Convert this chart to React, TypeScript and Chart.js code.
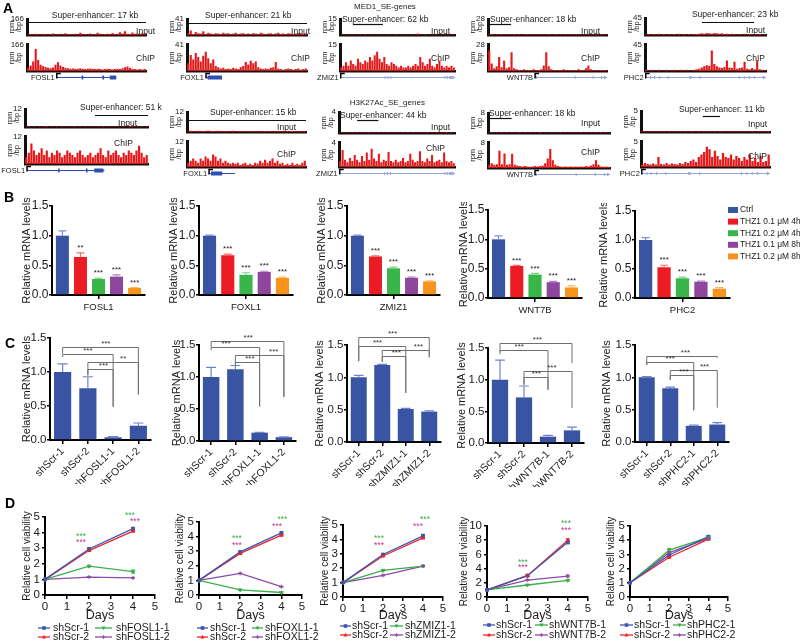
import React, { useEffect, useRef } from 'react';
import { Chart, registerables } from 'chart.js';

Chart.register(...registerables);

const FONT = '"Liberation Sans", Arial, Helvetica, sans-serif';
Chart.defaults.font.family = FONT;
Chart.defaults.color = '#1a1a1a';

/* ======================= DATA ======================= */
const loci = ['FOSL1', 'FOXL1', 'ZMIZ1', 'WNT7B', 'PHC2'];

// ---- A: MED1 super-enhancer genes (rpm/bp, 48 bins per locus)
const med1Max = [166, 41, 15, 28, 45];
const med1SeSize = ['17 kb', '21 kb', '62 kb', '18 kb', '23 kb'];
const med1InFOSL1 = [8, 12, 6, 14, 10, 8, 16, 10, 7, 12, 18, 9, 11, 14, 8, 20, 10, 12, 9, 15, 11, 24, 10, 13, 8, 18, 12, 10, 26, 14, 9, 12, 16, 10, 22, 12, 15, 30, 18, 40, 16, 12, 28, 14, 18, 10, 22, 12];
const med1ChipFOSL1 = [20, 35, 60, 140, 70, 40, 30, 25, 20, 18, 22, 40, 55, 35, 25, 20, 18, 15, 16, 14, 15, 18, 14, 12, 14, 16, 15, 12, 14, 12, 10, 12, 14, 12, 10, 12, 14, 12, 18, 24, 28, 20, 14, 12, 10, 12, 10, 12];
const med1InFOXL1 = [4, 12, 3, 8, 5, 4, 10, 3, 6, 4, 3, 5, 4, 3, 6, 4, 5, 3, 4, 6, 3, 4, 5, 3, 4, 3, 5, 4, 3, 6, 4, 3, 4, 5, 3, 4, 6, 3, 4, 3, 5, 4, 3, 4, 5, 3, 4, 3];
const med1ChipFOXL1 = [12, 25, 18, 28, 22, 15, 24, 30, 20, 12, 18, 8, 6, 4, 5, 3, 4, 3, 5, 4, 3, 6, 8, 14, 10, 16, 12, 15, 6, 4, 3, 4, 3, 5, 6, 14, 4, 3, 2, 3, 4, 3, 2, 3, 4, 2, 3, 4];
const med1InZMIZ1 = [0.5, 0.4, 0.6, 0.5, 0.4, 0.7, 0.5, 0.4, 0.6, 0.5, 0.8, 0.5, 0.4, 0.6, 0.5, 0.4, 0.5, 0.6, 0.4, 0.5, 0.6, 0.4, 0.5, 0.9, 0.5, 0.4, 0.6, 0.5, 0.4, 0.5, 0.6, 0.4, 1.5, 0.5, 0.4, 0.6, 0.5, 0.4, 0.5, 0.6, 0.4, 0.5, 0.6, 0.4, 0.5, 0.6, 0.4, 0.5];
const med1ChipZMIZ1 = [2, 3, 5, 3, 6, 4, 3, 7, 5, 4, 6, 5, 8, 6, 9, 11, 7, 5, 8, 4, 3, 5, 4, 3, 2, 3, 2, 2, 3, 2, 3, 4, 3, 8, 5, 3, 4, 7, 3, 2, 4, 6, 3, 2, 3, 2, 3, 2];
const med1InWNT7B = [1, 2, 1, 1.5, 1, 2, 1, 1.5, 1, 1, 2, 1, 1.5, 1, 1, 2, 1, 1, 1.5, 1, 1, 1.5, 1, 1, 2, 1, 1, 1.5, 1, 1, 1, 1.5, 1, 1, 1, 1.5, 1, 1, 1, 1, 1.5, 1, 1, 1, 1, 1.5, 1, 1];
const med1ChipWNT7B = [22, 8, 3, 5, 15, 4, 11, 3, 4, 20, 3, 2, 1, 1, 2, 1, 1, 1, 2, 1, 1, 2, 6, 20, 5, 2, 1, 1, 1, 1, 2, 1, 1, 1, 1, 1, 2, 1, 1, 3, 6, 2, 1, 1, 1, 1, 1, 1];
const med1InPHC2 = [2, 3, 2, 3, 2, 4, 2, 3, 2, 3, 2, 3, 2, 4, 2, 3, 2, 3, 2, 3, 3, 4, 5, 4, 6, 5, 4, 6, 5, 4, 5, 3, 4, 3, 4, 3, 2, 3, 2, 4, 2, 3, 2, 3, 2, 3, 2, 2];
const med1ChipPHC2 = [2, 1, 2, 1, 1, 2, 1, 1, 2, 1, 1, 2, 1, 1, 2, 1, 2, 1, 1, 2, 3, 4, 6, 8, 10, 9, 35, 12, 8, 6, 5, 7, 18, 6, 5, 16, 4, 5, 6, 16, 4, 3, 5, 3, 18, 3, 2, 1];
const med1Input = [med1InFOSL1, med1InFOXL1, med1InZMIZ1, med1InWNT7B, med1InPHC2];
const med1Chip = [med1ChipFOSL1, med1ChipFOXL1, med1ChipZMIZ1, med1ChipWNT7B, med1ChipPHC2];
// super-enhancer extent (bins)
const med1SeSpan = [[0, 48], [0, 48], [5.4, 17.9], [0.8, 9.3], [22.6, 43.3]];

// ---- A: H3K27Ac super-enhancer genes
const h3k27Max = [12, 12, 4, 8, 5];
const h3k27SeSize = ['51 kb', '15 kb', '44 kb', '18 kb', '11 kb'];
const h3kInFOSL1 = [0.3, 0.5, 0.3, 0.4, 0.3, 0.5, 0.3, 0.4, 0.6, 0.3, 0.4, 0.3, 0.5, 0.3, 0.4, 0.3, 0.5, 0.3, 0.4, 0.6, 0.3, 0.4, 0.3, 0.5, 0.3, 0.4, 0.3, 0.5, 0.4, 0.3, 0.6, 0.3, 0.4, 0.3, 0.5, 0.3, 0.4, 0.3, 0.5, 0.3, 0.4, 0.6, 0.3, 0.4, 0.3, 0.5, 0.3, 0.4];
const h3kChipFOSL1 = [3, 5, 9, 6, 4, 5, 7, 4, 6, 3, 5, 4, 6, 5, 3, 4, 6, 5, 4, 3, 5, 6, 4, 3, 4, 5, 3, 4, 5, 7, 4, 3, 6, 4, 5, 6, 4, 3, 5, 4, 6, 5, 4, 6, 8, 5, 3, 4];
const h3kInFOXL1 = [0.4, 0.8, 0.5, 0.6, 0.9, 0.5, 0.7, 0.6, 1.0, 0.5, 0.7, 0.6, 0.8, 0.5, 0.6, 0.7, 0.5, 0.6, 0.9, 0.5, 0.6, 0.5, 0.7, 0.5, 0.6, 0.5, 0.7, 0.6, 0.5, 0.6, 0.5, 0.7, 0.5, 0.6, 0.5, 0.6, 0.7, 0.5, 0.6, 0.5, 0.6, 0.5, 0.7, 0.5, 0.6, 0.5, 0.6, 0.5];
const h3kChipFOXL1 = [2, 3, 4, 3, 2, 4, 3, 5, 4, 3, 6, 5, 3, 4, 2, 3, 2, 1.5, 2, 1.5, 2, 1, 1.5, 2, 1, 1.5, 1, 2, 1.5, 3, 2, 3.5, 2, 3, 4, 2, 3, 1.5, 2, 1, 1.5, 1, 2, 1, 1.5, 1, 2, 3];
const h3kInZMIZ1 = [0.1, 0.15, 0.1, 0.12, 0.1, 0.18, 0.1, 0.12, 0.1, 0.15, 0.1, 0.12, 0.2, 0.1, 0.12, 0.1, 0.15, 0.1, 0.12, 0.1, 0.18, 0.1, 0.12, 0.1, 0.15, 0.1, 0.12, 0.1, 0.2, 0.1, 0.12, 0.1, 0.15, 0.1, 0.12, 0.1, 0.18, 0.1, 0.12, 0.1, 0.15, 0.1, 0.12, 0.1, 0.2, 0.1, 0.12, 0.1];
const h3kChipZMIZ1 = [1.0, 2.8, 1.2, 0.8, 1.5, 1.0, 2.0, 1.2, 0.8, 1.8, 1.0, 2.4, 1.2, 3.0, 1.4, 1.0, 2.2, 0.8, 1.2, 1.0, 2.5, 1.0, 0.8, 1.2, 0.8, 1.0, 1.5, 0.8, 1.0, 2.2, 1.2, 0.8, 1.0, 2.6, 1.0, 0.8, 1.4, 1.0, 2.0, 0.8, 1.0, 1.2, 0.8, 2.4, 1.0, 0.8, 1.0, 0.6];
const h3kInWNT7B = [0.2, 0.3, 0.2, 0.25, 0.2, 0.35, 0.2, 0.25, 0.2, 0.3, 0.2, 0.25, 0.4, 0.2, 0.25, 0.2, 0.3, 0.2, 0.25, 0.2, 0.35, 0.2, 0.25, 0.2, 0.3, 0.2, 0.25, 0.2, 0.4, 0.2, 0.25, 0.2, 0.3, 0.2, 0.25, 0.2, 0.35, 0.2, 0.25, 0.2, 0.3, 0.2, 0.25, 0.2, 0.4, 0.2, 0.25, 0.2];
const h3kChipWNT7B = [1, 1.5, 1, 1.2, 5.5, 1.2, 4.6, 1, 1.2, 4.5, 1, 0.8, 0.6, 0.5, 0.6, 0.5, 0.4, 0.5, 0.6, 0.5, 0.6, 0.8, 1.5, 3, 6, 2.5, 1, 0.6, 0.5, 0.4, 0.5, 0.4, 0.5, 0.4, 0.5, 0.4, 0.5, 0.4, 0.6, 0.5, 0.8, 1.2, 2.5, 1, 0.5, 0.4, 0.5, 0.4];
const h3kInPHC2 = [0.15, 0.2, 0.15, 0.25, 0.15, 0.2, 0.15, 0.2, 0.25, 0.15, 0.2, 0.15, 0.2, 0.15, 0.25, 0.15, 0.2, 0.15, 0.2, 0.25, 0.15, 0.2, 0.15, 0.2, 0.15, 0.25, 0.15, 0.2, 0.15, 0.2, 0.25, 0.15, 0.2, 0.15, 0.2, 0.15, 0.25, 0.15, 0.2, 0.15, 0.2, 0.25, 0.15, 0.2, 0.15, 0.2, 0.15, 0.2];
const h3kChipPHC2 = [0.5, 0.8, 0.6, 0.5, 0.7, 0.5, 2.0, 0.6, 0.5, 0.8, 0.5, 0.7, 0.6, 0.5, 0.8, 0.6, 1.0, 0.8, 1.2, 1.5, 1.0, 2.0, 2.5, 3.0, 4.0, 3.5, 2.0, 3.2, 2.2, 1.5, 2.8, 2.0, 1.8, 2.5, 1.5, 2.2, 1.8, 1.2, 2.0, 1.5, 2.5, 1.2, 1.8, 1.0, 2.2, 1.0, 1.2, 2.5];
const h3k27Input = [h3kInFOSL1, h3kInFOXL1, h3kInZMIZ1, h3kInWNT7B, h3kInPHC2];
const h3k27Chip = [h3kChipFOSL1, h3kChipFOXL1, h3kChipZMIZ1, h3kChipWNT7B, h3kChipPHC2];
const h3k27SeSpan = [[27.3, 48], [0, 48], [7.5, 16.3], [0.8, 9.3], [23, 29.4]];

// gene models (bins): TSS, end, exons
const med1Genes = [
  { tss: 12, end: 36, exons: [[22, 22.7], [30.4, 31.1], [33.4, 36]] },
  { tss: 7.6, end: 14, exons: [[8.2, 14]] },
  { tss: 0.3, end: 48, exons: [[18.6, 19], [19.9, 20.3], [21.1, 21.5], [43.6, 44], [44.6, 45], [45.6, 46.6]] },
  { tss: 19, end: 48, exons: [[19.3, 19.8], [35, 35.4], [42.2, 42.6], [45.6, 46]] },
  { tss: 0.3, end: 48, exons: [[2, 2.4], [3.6, 4], [5.6, 6], [9, 9.4], [17.6, 18.4], [21.6, 22], [37.2, 37.6], [39.2, 39.6], [41.2, 41.6], [43.2, 43.6]] },
];
const h3k27Genes = [
  { tss: 0.8, end: 31, exons: [[12.9, 13.5], [23.8, 24.4], [27, 30.6]] },
  { tss: 8.9, end: 19.4, exons: [[9.7, 14.2]] },
  { tss: 0.3, end: 48, exons: [[18.6, 19], [19.9, 20.3], [21.1, 21.5], [43.6, 44], [44.6, 45], [45.6, 46.6]] },
  { tss: 18.5, end: 48, exons: [[18.8, 19.3], [34.5, 34.9], [42, 42.4], [45.6, 46]] },
  { tss: 0.3, end: 48, exons: [[2, 2.4], [3.6, 4], [5.6, 6], [9, 9.4], [17.6, 18.4], [21.6, 22], [37.2, 37.6], [39.2, 39.6], [41.2, 41.6], [43.2, 43.6]] },
];

// ---- B: THZ1 treatment, relative mRNA levels
const conditions = ['Ctrl', 'THZ1 0.1 μM 4h', 'THZ1 0.2 μM 4h', 'THZ1 0.1 μM 8h', 'THZ1 0.2 μM 8h'];
const thzFOSL1 = [1.0, 0.64, 0.27, 0.31, 0.12];
const thzFOXL1 = [1.0, 0.67, 0.34, 0.39, 0.29];
const thzZMIZ1 = [1.0, 0.65, 0.45, 0.29, 0.23];
const thzWNT7B = [1.0, 0.545, 0.40, 0.27, 0.18];
const thzPHC2 = [1.0, 0.53, 0.34, 0.28, 0.16];
const thzErrFOSL1 = [0.08, 0.07, 0.015, 0.03, 0.006];
const thzErrFOXL1 = [0.01, 0.02, 0.035, 0.01, 0.01];
const thzErrZMIZ1 = [0.01, 0.01, 0.02, 0.01, 0.01];
const thzErrWNT7B = [0.06, 0.01, 0.02, 0.015, 0.025];
const thzErrPHC2 = [0.04, 0.035, 0.02, 0.01, 0.02];
const thzSigFOSL1 = ['', '**', '***', '***', '***'];
const thzSigOther = ['', '***', '***', '***', '***'];
const thzValues = [thzFOSL1, thzFOXL1, thzZMIZ1, thzWNT7B, thzPHC2];
const thzErrors = [thzErrFOSL1, thzErrFOXL1, thzErrZMIZ1, thzErrWNT7B, thzErrPHC2];
const thzSigs = [thzSigFOSL1, thzSigOther, thzSigOther, thzSigOther, thzSigOther];

// ---- C: shRNA knockdown, relative mRNA levels
const shFOSL1 = ['shScr-1', 'shScr-2', 'shFOSL1-1', 'shFOSL1-2'];
const shFOXL1 = ['shScr-1', 'shScr-2', 'shFOXL1-1', 'shFOXL1-2'];
const shZMIZ1 = ['shScr-1', 'shScr-2', 'shZMIZ1-1', 'shZMIZ1-2'];
const shWNT7B = ['shScr-1', 'shScr-2', 'shWNT7B-1', 'shWNT7B-2'];
const shPHC2 = ['shScr-1', 'shScr-2', 'shPHC2-1', 'shPHC2-2'];
const shNames = [shFOSL1, shFOXL1, shZMIZ1, shWNT7B, shPHC2];
const kdFOSL1 = [1.0, 0.76, 0.04, 0.21];
const kdFOXL1 = [1.0, 1.12, 0.13, 0.06];
const kdZMIZ1 = [1.0, 1.19, 0.51, 0.47];
const kdWNT7B = [1.0, 0.72, 0.10, 0.20];
const kdPHC2 = [1.0, 0.83, 0.25, 0.27];
const kdErrFOSL1 = [0.12, 0.17, 0.01, 0.04];
const kdErrFOXL1 = [0.15, 0.06, 0.005, 0.005];
const kdErrZMIZ1 = [0.03, 0.01, 0.01, 0.01];
const kdErrWNT7B = [0.31, 0.18, 0.02, 0.05];
const kdErrPHC2 = [0.01, 0.02, 0.01, 0.03];
const kdValues = [kdFOSL1, kdFOXL1, kdZMIZ1, kdWNT7B, kdPHC2];
const kdErrors = [kdErrFOSL1, kdErrFOXL1, kdErrZMIZ1, kdErrWNT7B, kdErrPHC2];
// significance brackets: from, to, height, left end, right end (values), label, label position
const brFOSL1 = [
  { from: 0, to: 3, y: 1.37, l: 1.27, r: 0.67, text: '***', at: 0.57 },
  { from: 0, to: 2, y: 1.27, l: 1.22, r: 0.49, text: '***', at: 0.5 },
  { from: 1, to: 3, y: 1.145, l: 0.95, r: 0.67, text: '**', at: 0.7 },
  { from: 1, to: 2, y: 1.037, l: 0.95, r: 0.49, text: '***', at: 0.62 },
];
const brFOXL1 = [
  { from: 0, to: 3, y: 1.56, l: 1.47, r: 0.69, text: '***', at: 0.51 },
  { from: 0, to: 2, y: 1.47, l: 1.42, r: 0.54, text: '***', at: 0.31 },
  { from: 1, to: 3, y: 1.34, l: 1.19, r: 0.69, text: '***', at: 0.79 },
  { from: 1, to: 2, y: 1.24, l: 1.19, r: 0.54, text: '***', at: 0.6 },
];
const brZMIZ1 = [
  { from: 0, to: 3, y: 1.63, l: 1.25, r: 1.31, text: '***', at: 0.48 },
  { from: 0, to: 2, y: 1.49, l: 1.25, r: 0.76, text: '***', at: 0.4 },
  { from: 1, to: 3, y: 1.42, l: 1.24, r: 1.31, text: '***', at: 0.77 },
  { from: 1, to: 2, y: 1.33, l: 1.24, r: 0.76, text: '***', at: 0.6 },
];
const brWNT7B = [
  { from: 0, to: 3, y: 1.585, l: 1.44, r: 1.26, text: '***', at: 0.52 },
  { from: 0, to: 2, y: 1.47, l: 1.4, r: 0.84, text: '***', at: 0.4 },
  { from: 1, to: 3, y: 1.14, l: 0.92, r: 0.55, text: '***', at: 0.58 },
  { from: 1, to: 2, y: 1.04, l: 0.92, r: 0.84, text: '***', at: 0.52 },
];
const brPHC2 = [
  { from: 0, to: 3, y: 1.33, l: 1.19, r: 1.3, text: '***', at: 0.55 },
  { from: 0, to: 2, y: 1.24, l: 1.19, r: 0.49, text: '***', at: 0.5 },
  { from: 1, to: 3, y: 1.12, l: 0.96, r: 0.53, text: '***', at: 0.73 },
  { from: 1, to: 2, y: 1.03, l: 0.96, r: 0.49, text: '***', at: 0.58 },
];
const kdBrackets = [brFOSL1, brFOXL1, brZMIZ1, brWNT7B, brPHC2];

// ---- D: relative cell viability
const days = [0, 2, 4];
const viaFOSL1 = [[1, 2.95, 4.25], [1, 2.85, 4.1], [1, 1.85, 1.5], [1, 1.15, 1.1]];
const viaFOXL1 = [[1, 2.95, 4.25], [1, 2.85, 4.1], [1, 0.35, 0.17], [1, 1.48, 0.57]];
const viaZMIZ1 = [[1, 2.95, 4.25], [1, 2.85, 4.1], [1, 1.85, 2.15], [1, 1.5, 2.15]];
const viaWNT7B = [[1, 3.0, 7.7], [1, 3.0, 8.0], [1, 1.69, 2.35], [1, 2.39, 2.95]];
const viaPHC2 = [[1, 2.96, 4.25], [1, 2.8, 4.08], [1, 3.3, 4.2], [1, 3.12, 4.13]];
const viaErrFOSL1 = [[0, 0.06, 0.08], [0, 0.05, 0.06], [0, 0.05, 0.1], [0, 0.03, 0.03]];
const viaErrFOXL1 = [[0, 0.06, 0.08], [0, 0.05, 0.06], [0, 0.03, 0.03], [0, 0.03, 0.03]];
const viaErrZMIZ1 = [[0, 0.06, 0.1], [0, 0.05, 0.06], [0, 0.04, 0.05], [0, 0.03, 0.04]];
const viaErrWNT7B = [[0, 0.1, 0.2], [0, 0.1, 0.2], [0, 0.05, 0.08], [0, 0.06, 0.15]];
const viaErrPHC2 = [[0, 0.06, 0.08], [0, 0.05, 0.06], [0, 0.12, 0.08], [0, 0.06, 0.06]];
const viaSeries = [viaFOSL1, viaFOXL1, viaZMIZ1, viaWNT7B, viaPHC2];
const viaErrors = [viaErrFOSL1, viaErrFOXL1, viaErrZMIZ1, viaErrWNT7B, viaErrPHC2];
const viaYMax = [5, 5, 5, 10, 5];
const viaYStep = [1, 1, 1, 2, 1];
// significance labels: [day position, value, which knockdown ('g' = -1, 'm' = -2)]
const starsFOSL1 = [[1.64, 3.74, 'g'], [1.64, 3.35, 'm'], [3.86, 5.06, 'g'], [4.09, 4.7, 'm']];
const starsFOXL1 = [[1.84, 3.84, 'g'], [1.84, 3.36, 'm'], [4.05, 5.14, 'g'], [3.79, 4.66, 'm']];
const starsZMIZ1 = [[1.8, 4.03, 'g'], [1.8, 3.54, 'm'], [4.1, 5.4, 'g'], [3.75, 4.9, 'm']];
const starsWNT7B = [[1.78, 4.9, 'g'], [1.78, 4.08, 'm'], [3.91, 10.4, 'g'], [3.91, 9.4, 'm']];
const starsPHC2: any[] = [];
const viaStars = [starsFOSL1, starsFOXL1, starsZMIZ1, starsWNT7B, starsPHC2];

/* ======================= STYLE ======================= */
const TRACK_RED = '#e31a1c';
const GENE_DARK = '#2f4fb0';
const GENE_LIGHT = '#94a6e0';
const condColors = ['#3a54a4', '#ec1c24', '#3ab54a', '#8e479c', '#f7941d'];
const condErrColors = ['#7b8fd0', '#f36b6f', '#7fd08a', '#b27fc0', '#f9b866'];
const KD_BLUE = '#3a54a4';
const KD_ERR = '#7083c8';
const seriesColors = ['#3d56b3', '#e8262b', '#3aae4a', '#8d4aa6'];
const seriesStyles = ['rect', 'triangle', 'triangle', 'cross'];
const seriesRot = [0, 0, 180, 0];
const STAR_G = '#3cae4b';
const STAR_M = '#c0348f';

/* ======================= LAYOUT ======================= */
const aTopCols = [[27, 146], [187, 307], [340, 455], [488, 607], [645, 766]];
const aBotCols = [[25, 148], [187, 306], [339, 455], [488, 610], [641, 770]];
const aTopY = [[19, 43, 71], [19, 43, 71], [19, 43, 71], [19, 43, 71], [18, 43, 71]];
const aBotY = [[109, 135, 164], [112, 140, 167], [112, 141, 167], [113, 141, 168], [111, 140, 167]];
const aTopSeText = [[10, -3, 3], [7.2, -3, 4], [0.8, 1, 5], [0.8, 1, 5], [18.6, -3, 4]];
const aBotSeText = [[21.5, -1, 6], [9.3, 1, 8], [0.4, 4, 8], [0.4, 1, 5], [14.1, -1, 5]];
const aTopLab = [[9, 13, 9, 14], [3, 13, 3, 14], [-5, 13, -5, 14], [-7, 13, -7, 14], [-1, 13, -1, 14]];
const aBotLab = [[-11, 15, -15, 7], [-10, 16, -10, 13], [-5, 16, -10, 6], [-10, 11, -10, 10], [-3, 14, -3, 15]];
const aTitles = [{ text: 'MED1_SE-genes', at: 18.75, dy: -12 }, { text: 'H3K27Ac_SE_genes', at: 20, dy: -9 }];

const bLayout = [
  { l: 52, t: 206, r: 145, b: 295, L: 32 },
  { l: 199, t: 206, r: 293, b: 295, L: 32 },
  { l: 347, t: 206, r: 440, b: 295, L: 32 },
  { l: 488, t: 210, r: 582, b: 298, L: 31 },
  { l: 635, t: 211, r: 730, b: 298, L: 38 },
];
const cLayout = [
  { l: 50, t: 338, r: 151, b: 440, L: 30 },
  { l: 199, t: 345, r: 296, b: 441, L: 29 },
  { l: 347, t: 345, r: 441, b: 442, L: 34 },
  { l: 488, t: 348, r: 584, b: 443, L: 33 },
  { l: 635, t: 345, r: 729, b: 442, L: 35 },
];
const dLayout = [
  { l: 45, t: 517, r: 155, b: 595, L: 24 },
  { l: 199, t: 522, r: 302, b: 595, L: 25 },
  { l: 343, t: 525, r: 443, b: 597, L: 24 },
  { l: 487, t: 526, r: 588, b: 597, L: 29 },
  { l: 630, t: 526, r: 728, b: 597, L: 25 },
];
const dLegendCols = [
  [[-7, 5, 8], [50, 67, 71]],
  [[-2, 9, 11], [53, 64, 66]],
  [[-3, 8, 9], [47, 60, 62]],
  [[-4, 8, 9], [48, 61, 62]],
  [[-10, 3, 4], [43, 56, 57]],
];
const dLegendRows = [[33, 42], [33, 42], [29, 38], [28, 38], [28, 38]];
const panelLetters = [['A', 3, 1], ['B', 4, 190], ['C', 5, 336], ['D', 5, 496]];

/* ======================= HELPERS ======================= */
type Box = { l: number; t: number; r: number; b: number };
type Mar = { L: number; T: number; R: number; B: number; P?: number };
type Spec = { id: string; box: Box; mar: Mar; make: () => any };

function place(box: Box, m: Mar) {
  const P = m.P || 0;
  return {
    left: box.l - m.L - P,
    top: box.t - m.T,
    width: box.r - box.l + m.L + m.R + P,
    height: box.b - box.t + m.T + m.B,
  };
}

function base(m: Mar) {
  return {
    responsive: false,
    maintainAspectRatio: false,
    animation: false,
    events: [],
    layout: { padding: { left: m.P || 0, top: m.T, right: m.R, bottom: 0 } },
    plugins: { legend: { display: false }, tooltip: { enabled: false }, title: { display: false } },
  };
}

function yAxis(m: Mar, max: number, step: number, title: string, tickSize: number, titleSize: number, tickLen: number, pad: number, fmt: (v: number) => string) {
  return {
    min: 0,
    max,
    ticks: { stepSize: step, autoSkip: false, font: { size: tickSize }, padding: pad, color: '#1a1a1a', callback: (v: any) => fmt(Number(v)) },
    grid: { drawOnChartArea: false, drawTicks: true, tickLength: tickLen, color: '#000', lineWidth: 1.5 },
    border: { display: true, color: '#000', width: 2 },
    title: { display: true, text: title, font: { size: titleSize }, padding: 0, color: '#1a1a1a' },
    afterFit: (s: any) => { s.width = m.L; },
  };
}

function xCat(m: Mar, size: number, rot: number, pad: number) {
  return {
    grid: { display: true, drawOnChartArea: false, drawTicks: true, tickLength: 4, offset: false, color: '#000', lineWidth: 1.5 },
    border: { display: true, color: '#000', width: 2 },
    ticks: { font: { size }, padding: pad, color: '#1a1a1a', autoSkip: false, minRotation: rot, maxRotation: rot },
    afterFit: (s: any) => { s.height = m.B; },
  };
}

function drawMarker(ctx: any, style: string, rot: number, x: number, y: number, r: number, color: string) {
  ctx.save();
  ctx.fillStyle = color;
  ctx.strokeStyle = color;
  ctx.lineWidth = 1.2;
  if (style === 'rect') {
    ctx.fillRect(x - r, y - r, 2 * r, 2 * r);
  } else if (style === 'triangle') {
    const s = rot === 180 ? -1 : 1;
    ctx.beginPath();
    ctx.moveTo(x, y - s * r * 1.2);
    ctx.lineTo(x - r * 1.1, y + s * r * 0.8);
    ctx.lineTo(x + r * 1.1, y + s * r * 0.8);
    ctx.closePath();
    ctx.fill();
  } else {
    ctx.beginPath();
    ctx.moveTo(x - r, y);
    ctx.lineTo(x + r, y);
    ctx.moveTo(x, y - r);
    ctx.lineTo(x, y + r);
    ctx.stroke();
  }
  ctx.restore();
}

/* ======================= PLUGINS ======================= */
function trackDecor(kind: string, o: any) {
  return {
    id: 'trackDecor',
    afterDraw(chart: any) {
      const { ctx, chartArea: a } = chart;
      const xs = chart.scales.x;
      const bx = (b: number) => xs.getPixelForValue(b - 0.5);
      ctx.save();
      ctx.fillStyle = '#1a1a1a';
      ctx.textBaseline = 'middle';
      ctx.font = `8.5px ${FONT}`;
      ctx.textAlign = 'right';
      if (kind === 'in') {
        ctx.fillText('Input', a.right + o.lab[0], a.top + o.lab[1]);
        ctx.textAlign = 'left';
        ctx.fillText('Super-enhancer: ' + o.seSize, bx(o.seText[0]), a.top + o.seText[1]);
        ctx.strokeStyle = '#111';
        ctx.lineWidth = 1.2;
        const by = Math.round(a.top + o.seText[2]) + 0.5;
        ctx.beginPath();
        ctx.moveTo(bx(o.seSpan[0]), by);
        ctx.lineTo(bx(o.seSpan[1]), by);
        ctx.stroke();
        if (o.title) {
          ctx.textAlign = 'center';
          ctx.font = `8px ${FONT}`;
          ctx.fillText(o.title.text, bx(o.title.at), a.top + o.title.dy);
        }
      } else {
        ctx.fillText('ChIP', a.right + o.lab[2], a.top + o.lab[3]);
        const g = o.gene;
        const gy = Math.round(a.bottom + 6) + 0.5;
        const x0 = bx(g.tss);
        const x1 = bx(g.end);
        ctx.strokeStyle = o.geneColor;
        ctx.fillStyle = o.geneColor;
        ctx.lineWidth = 1;
        ctx.beginPath();
        ctx.moveTo(x0, gy);
        ctx.lineTo(x1, gy);
        ctx.stroke();
        const h = o.dark ? 4 : 3;
        g.exons.forEach((ex: number[]) => {
          const xa = bx(ex[0]);
          const xb = bx(ex[1]);
          ctx.fillRect(xa, gy - h / 2, Math.max(1, xb - xa), h);
        });
        if (!o.dark) {
          ctx.beginPath();
          ctx.moveTo(x1, gy);
          ctx.lineTo(x1 - 3, gy - 2);
          ctx.lineTo(x1 - 3, gy + 2);
          ctx.closePath();
          ctx.fill();
        }
        ctx.strokeStyle = '#000';
        ctx.lineWidth = 1.5;
        ctx.beginPath();
        ctx.moveTo(x0, gy + 1);
        ctx.lineTo(x0, gy - 4);
        ctx.lineTo(x0 + 4, gy - 4);
        ctx.stroke();
        ctx.fillStyle = '#1a1a1a';
        ctx.font = `7.5px ${FONT}`;
        ctx.textAlign = 'right';
        ctx.fillText(o.name, x0 - 2, gy);
      }
      ctx.restore();
    },
  };
}

function barErrors(errs: number[][], colorOf: (di: number) => string, sig?: string[][]) {
  return {
    id: 'barErrors',
    afterDatasetsDraw(chart: any) {
      const { ctx } = chart;
      const ys = chart.scales.y;
      ctx.save();
      chart.data.datasets.forEach((ds: any, di: number) => {
        const meta = chart.getDatasetMeta(di);
        meta.data.forEach((el: any, i: number) => {
          const v = ds.data[i];
          const e = errs[di][i];
          const yT = ys.getPixelForValue(v + e);
          const half = el.width * 0.3;
          ctx.strokeStyle = colorOf(di);
          ctx.lineWidth = 1.2;
          ctx.beginPath();
          ctx.moveTo(el.x, el.y);
          ctx.lineTo(el.x, yT);
          ctx.moveTo(el.x - half, yT);
          ctx.lineTo(el.x + half, yT);
          ctx.stroke();
          const s = sig && sig[di] ? sig[di][i] : '';
          if (s) {
            ctx.fillStyle = '#222';
            ctx.font = `8px ${FONT}`;
            ctx.textAlign = 'center';
            ctx.textBaseline = 'middle';
            ctx.fillText(s, el.x, yT - 5);
          }
        });
      });
      ctx.restore();
    },
  };
}

function brackets(list: any[]) {
  return {
    id: 'brackets',
    afterDatasetsDraw(chart: any) {
      const { ctx } = chart;
      const xs = chart.scales.x;
      const ys = chart.scales.y;
      ctx.save();
      ctx.strokeStyle = '#707070';
      ctx.lineWidth = 1;
      list.forEach((b: any) => {
        const x1 = xs.getPixelForValue(b.from);
        const x2 = xs.getPixelForValue(b.to);
        const y = Math.round(ys.getPixelForValue(b.y)) + 0.5;
        ctx.beginPath();
        ctx.moveTo(x1, ys.getPixelForValue(b.l));
        ctx.lineTo(x1, y);
        ctx.lineTo(x2, y);
        ctx.lineTo(x2, ys.getPixelForValue(b.r));
        ctx.stroke();
        ctx.fillStyle = '#333';
        ctx.font = `8px ${FONT}`;
        ctx.textAlign = 'center';
        ctx.textBaseline = 'middle';
        ctx.fillText(b.text, x1 + (x2 - x1) * b.at, y - 4);
      });
      ctx.restore();
    },
  };
}

function thzLegend() {
  return {
    id: 'thzLegend',
    afterDraw(chart: any) {
      const { ctx, chartArea: a } = chart;
      ctx.save();
      ctx.font = `8.4px ${FONT}`;
      ctx.textBaseline = 'middle';
      ctx.textAlign = 'left';
      conditions.forEach((c, i) => {
        const y = a.top - 1 + i * 11.6;
        ctx.fillStyle = condColors[i];
        ctx.fillRect(a.right - 2, y - 3, 10, 6);
        ctx.fillStyle = '#1a1a1a';
        ctx.fillText(c, a.right + 10, y);
      });
      ctx.restore();
    },
  };
}

function pointErrors(errs: number[][]) {
  return {
    id: 'pointErrors',
    afterDatasetsDraw(chart: any) {
      const { ctx } = chart;
      const ys = chart.scales.y;
      ctx.save();
      chart.data.datasets.forEach((ds: any, di: number) => {
        const meta = chart.getDatasetMeta(di);
        meta.data.forEach((pt: any, i: number) => {
          const e = errs[di][i];
          if (!e) return;
          const v = ds.data[i].y;
          const y1 = ys.getPixelForValue(v + e);
          const y2 = ys.getPixelForValue(v - e);
          ctx.strokeStyle = ds.borderColor;
          ctx.lineWidth = 1;
          ctx.beginPath();
          ctx.moveTo(pt.x, y1);
          ctx.lineTo(pt.x, y2);
          ctx.moveTo(pt.x - 2, y1);
          ctx.lineTo(pt.x + 2, y1);
          ctx.moveTo(pt.x - 2, y2);
          ctx.lineTo(pt.x + 2, y2);
          ctx.stroke();
        });
      });
      ctx.restore();
    },
  };
}

function starLabels(list: any[]) {
  return {
    id: 'starLabels',
    afterDatasetsDraw(chart: any) {
      const { ctx } = chart;
      const xs = chart.scales.x;
      const ys = chart.scales.y;
      ctx.save();
      ctx.font = `8.5px ${FONT}`;
      ctx.textAlign = 'center';
      ctx.textBaseline = 'middle';
      list.forEach((s: any) => {
        ctx.fillStyle = s[2] === 'g' ? STAR_G : STAR_M;
        ctx.fillText('***', xs.getPixelForValue(s[0]), ys.getPixelForValue(s[1]));
      });
      ctx.restore();
    },
  };
}

function viaLegend(names: string[], cols: number[][], rows: number[]) {
  return {
    id: 'viaLegend',
    afterDraw(chart: any) {
      const { ctx, chartArea: a } = chart;
      ctx.save();
      ctx.font = `10.5px ${FONT}`;
      ctx.textBaseline = 'middle';
      ctx.textAlign = 'left';
      names.forEach((n, k) => {
        const col = cols[k >> 1];
        const y = a.bottom + rows[k & 1];
        const c = seriesColors[k];
        ctx.strokeStyle = c;
        ctx.lineWidth = 1.3;
        ctx.beginPath();
        ctx.moveTo(a.left + col[0], y);
        ctx.lineTo(a.left + col[1], y);
        ctx.stroke();
        drawMarker(ctx, seriesStyles[k], seriesRot[k], a.left + (col[0] + col[1]) / 2, y, 1.8, c);
        ctx.fillStyle = '#1a1a1a';
        ctx.fillText(n, a.left + col[2], y);
      });
      ctx.restore();
    },
  };
}

/* ======================= SPECS ======================= */
function trackSpec(id: string, box: Box, mar: Mar, values: number[], max: number, kind: string, o: any): Spec {
  return {
    id,
    box,
    mar,
    make: () => ({
      type: 'bar',
      data: {
        labels: values.map((_, i) => String(i)),
        datasets: [{ data: values, backgroundColor: TRACK_RED, borderWidth: 0, categoryPercentage: 1, barPercentage: 0.85 }],
      },
      options: {
        ...base(mar),
        scales: {
          x: {
            grid: { display: false, drawTicks: false },
            ticks: { display: false },
            border: { display: true, color: '#111', width: 2.5 },
            afterFit: (s: any) => { s.height = mar.B; },
          },
          y: {
            min: 0,
            max,
            afterBuildTicks: (s: any) => { s.ticks = [{ value: max }]; },
            grid: { display: false, drawTicks: false },
            border: { display: true, color: '#111', width: 3 },
            ticks: { font: { size: 8 }, padding: 3, color: '#222', callback: (v: any) => String(v) },
            title: { display: true, text: ['rpm', '/bp'], font: { size: 7.5, lineHeight: 1 }, padding: 0, color: '#222' },
            afterFit: (s: any) => { s.width = mar.L; },
          },
        },
      },
      plugins: [trackDecor(kind, o)],
    }),
  };
}

function trackRow(row: number): Spec[] {
  const top = row === 0;
  const cols = top ? aTopCols : aBotCols;
  const ys = top ? aTopY : aBotY;
  const maxes = top ? med1Max : h3k27Max;
  const ins = top ? med1Input : h3k27Input;
  const chips = top ? med1Chip : h3k27Chip;
  const sizes = top ? med1SeSize : h3k27SeSize;
  const spans = top ? med1SeSpan : h3k27SeSpan;
  const seText = top ? aTopSeText : aBotSeText;
  const labs = top ? aTopLab : aBotLab;
  const genes = top ? med1Genes : h3k27Genes;
  const out: Spec[] = [];
  loci.forEach((name, i) => {
    const o = {
      name,
      seSize: sizes[i],
      seSpan: spans[i],
      seText: seText[i],
      lab: labs[i],
      gene: genes[i],
      dark: i < 2,
      geneColor: i < 2 ? GENE_DARK : GENE_LIGHT,
      title: i === 2 ? aTitles[row] : null,
    };
    const [l, r] = cols[i];
    const [t, m, b] = ys[i];
    out.push(trackSpec(`a${row}in${i}`, { l, t, r, b: m }, { L: 19, T: 18, R: 14, B: 0 }, ins[i], maxes[i], 'in', o));
    out.push(trackSpec(`a${row}chip${i}`, { l, t: m, r, b }, { L: 19, T: 6, R: 14, B: 14, P: 14 }, chips[i], maxes[i], 'chip', o));
  });
  return out;
}

function thzSpec(i: number): Spec {
  const L = bLayout[i];
  const mar: Mar = { L: L.L, T: 8, R: i === 4 ? 70 : 8, B: 20 };
  return {
    id: 'b' + i,
    box: { l: L.l, t: L.t, r: L.r, b: L.b },
    mar,
    make: () => ({
      type: 'bar',
      data: {
        labels: [loci[i]],
        datasets: conditions.map((c, k) => ({
          label: c,
          data: [thzValues[i][k]],
          backgroundColor: condColors[k],
          borderWidth: 0,
          categoryPercentage: 0.97,
          barPercentage: 0.72,
        })),
      },
      options: {
        ...base(mar),
        scales: {
          x: xCat(mar, 9.5, 0, 3),
          y: yAxis(mar, 1.5, 0.5, 'Relative mRNA levels', 12, 11, 3, 0.5, (v) => v.toFixed(1)),
        },
      },
      plugins: [
        barErrors(thzErrors[i].map((e) => [e]), (di) => condErrColors[di], thzSigs[i].map((s) => [s])),
        ...(i === 4 ? [thzLegend()] : []),
      ],
    }),
  };
}

function kdSpec(i: number): Spec {
  const L = cLayout[i];
  const mar: Mar = { L: L.L, T: 20, R: 8, B: 44 };
  return {
    id: 'c' + i,
    box: { l: L.l, t: L.t, r: L.r, b: L.b },
    mar,
    make: () => ({
      type: 'bar',
      data: {
        labels: shNames[i],
        datasets: [{ data: kdValues[i], backgroundColor: KD_BLUE, borderWidth: 0, categoryPercentage: 1, barPercentage: 0.68 }],
      },
      options: {
        ...base(mar),
        scales: {
          x: xCat(mar, 10.5, 45, 1),
          y: yAxis(mar, 1.5, 0.5, 'Relative mRNA levels', 11.5, 11, 3, 0.5, (v) => v.toFixed(1)),
        },
      },
      plugins: [barErrors([kdErrors[i]], () => KD_ERR), brackets(kdBrackets[i])],
    }),
  };
}

function viaSpec(i: number): Spec {
  const L = dLayout[i];
  const mar: Mar = { L: L.L, T: 12, R: 26, B: 641 - L.b };
  const titleLH = 12.5 * 1.2;
  const pb = 641 - 615.5 - titleLH / 2;
  const names = shNames[i];
  return {
    id: 'd' + i,
    box: { l: L.l, t: L.t, r: L.r, b: L.b },
    mar,
    make: () => ({
      type: 'line',
      data: {
        datasets: viaSeries[i].map((vals, si) => ({
          label: names[si],
          data: days.map((d, k) => ({ x: d, y: vals[k] })),
          borderColor: seriesColors[si],
          backgroundColor: seriesColors[si],
          borderWidth: 1.3,
          pointRadius: 2,
          pointBorderWidth: 1,
          pointStyle: seriesStyles[si],
          pointRotation: seriesRot[si],
          tension: 0,
          fill: false,
          clip: false,
        })),
      },
      options: {
        ...base(mar),
        scales: {
          x: {
            type: 'linear',
            min: 0,
            max: 5,
            ticks: { stepSize: 1, autoSkip: false, font: { size: 11.5 }, padding: 1, color: '#1a1a1a' },
            grid: { drawOnChartArea: false, drawTicks: true, tickLength: 4, color: '#000', lineWidth: 1.5 },
            border: { display: true, color: '#000', width: 2 },
            title: { display: true, text: 'Days', font: { size: 12.5 }, padding: { top: 0, bottom: pb }, color: '#1a1a1a' },
            afterFit: (s: any) => { s.height = mar.B; },
          },
          y: yAxis(mar, viaYMax[i], viaYStep[i], 'Relative cell viability', 11.5, 10, 3, 2, (v) => String(v)),
        },
      },
      plugins: [pointErrors(viaErrors[i]), starLabels(viaStars[i]), viaLegend(names, dLegendCols[i], dLegendRows[i])],
    }),
  };
}

const specs: Spec[] = [
  ...trackRow(0),
  ...trackRow(1),
  ...loci.map((_, i) => thzSpec(i)),
  ...loci.map((_, i) => kdSpec(i)),
  ...loci.map((_, i) => viaSpec(i)),
];

/* ======================= COMPONENTS ======================= */
function ChartCanvas({ spec }: { spec: Spec }) {
  const ref = useRef<HTMLCanvasElement | null>(null);
  useEffect(() => {
    if (!ref.current) return;
    const chart = new Chart(ref.current, spec.make());
    return () => chart.destroy();
  }, [spec]);
  const p = place(spec.box, spec.mar);
  return (
    <canvas
      ref={ref}
      width={p.width}
      height={p.height}
      style={{ position: 'absolute', left: p.left, top: p.top, width: p.width, height: p.height }}
    />
  );
}

export default function App() {
  return (
    <div style={{ position: 'absolute', left: 0, top: 0, width: 800, height: 641, background: '#fff', overflow: 'hidden', fontFamily: FONT }}>
      {specs.map((s) => (
        <ChartCanvas key={s.id} spec={s} />
      ))}
      {panelLetters.map(([t, x, y]) => (
        <div
          key={String(t)}
          style={{ position: 'absolute', left: Number(x), top: Number(y), fontSize: 14, fontWeight: 700, lineHeight: '14px', color: '#000' }}
        >
          {t}
        </div>
      ))}
    </div>
  );
}
